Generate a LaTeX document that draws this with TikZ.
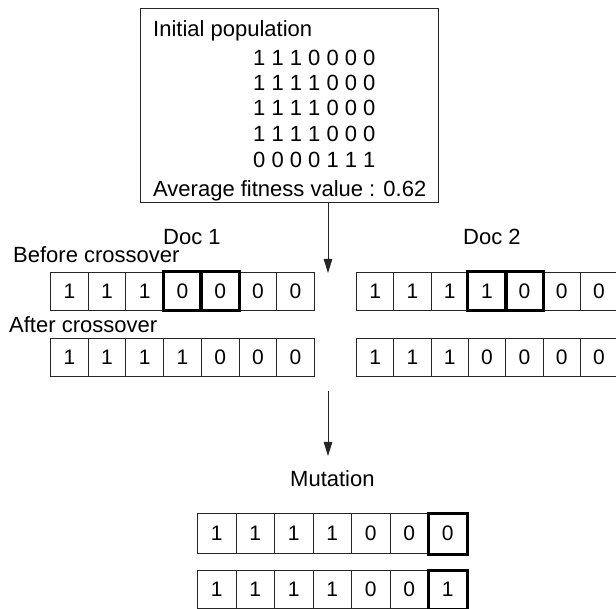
\documentclass[tikz,border=0pt]{standalone}
\usepackage{fontspec}
\setmainfont{Liberation Sans}
\usetikzlibrary{arrows.meta}

% one row of bit cells: name, left x, top y, cell width, cell height, digits
\newcommand\bitrow[6]{%
  \foreach \d [count=\i] in {#6} {
    \node[cell, minimum width=#4pt, minimum height=#5pt] (#1-\i) at ({#2+(\i-1)*#4}, #3) {\d};
  }%
}
% thick frame around a chosen cell
\newcommand\hotcell[1]{\draw[hot] (#1.north west) rectangle (#1.south east);}

\begin{document}
\begin{tikzpicture}[x=1pt,y=-1pt,
  lbl/.style={font=\fontsize{22}{26}\selectfont, inner sep=0pt, anchor=base west},
  cell/.style={draw=black!85, line width=1pt, inner sep=0pt, anchor=north west,
               font=\fontsize{21}{24}\selectfont},
  hot/.style={draw=black, line width=3pt},
  flow/.style={draw=black!85, line width=1pt, -{Triangle[length=14pt,width=8.5pt]}},
  popbox/.style={draw=black!85, line width=1pt, inner sep=0pt, anchor=north west},
]
\useasboundingbox (0,0) rectangle (616,609);
\fill[white] (0,0) rectangle (616,609);

% initial population box
\node[popbox, minimum width=298pt, minimum height=194pt] (pop) at (140,8) {};
\node[lbl] (ptitle) at (153,37) {Initial population};
\node[lbl] (p1) at (253,66)  {1 1 1 0 0 0 0};
\node[lbl] (p2) at (253,91)  {1 1 1 1 0 0 0};
\node[lbl] (p3) at (253,116) {1 1 1 1 0 0 0};
\node[lbl] (p4) at (253,142) {1 1 1 1 0 0 0};
\node[lbl] (p5) at (253,168) {0 0 0 0 1 1 1};
\node[lbl] (pavg) at (153,197) {Average fitness value : 0.62};

% arrow into crossover
\coordinate (a1) at (328,273);
\draw[flow] (pop.south -| a1) -- (a1);

% crossover labels
\node[lbl] (doc1) at (163,245) {Doc 1};
\node[lbl] (doc2) at (463,245) {Doc 2};
\node[lbl] (before) at (13,263) {Before crossover};
\node[lbl] (after) at (9,333) {After crossover};

% crossover rows
\bitrow{d1b}{50}{272}{37.7}{38}{1,1,1,0,0,0,0}
\bitrow{d1a}{50}{338}{37.7}{38}{1,1,1,1,0,0,0}
\bitrow{d2b}{356}{272}{37.3}{38}{1,1,1,1,0,0,0}
\bitrow{d2a}{356}{338}{37.3}{38}{1,1,1,0,0,0,0}
\hotcell{d1b-4}\hotcell{d1b-5}
\hotcell{d2b-4}\hotcell{d2b-5}

% arrow into mutation
\coordinate (a2s) at (328,391);
\coordinate (a2e) at (328,456);
\draw[flow] (a2s) -- (a2e);
\node[lbl] (mut) at (290,486) {Mutation};

% mutation rows
\bitrow{m1}{197}{513}{38.5}{40}{1,1,1,1,0,0,0}
\bitrow{m2}{197}{570}{38.5}{38}{1,1,1,1,0,0,1}
\hotcell{m1-7}
\hotcell{m2-7}
\end{tikzpicture}
\end{document}
